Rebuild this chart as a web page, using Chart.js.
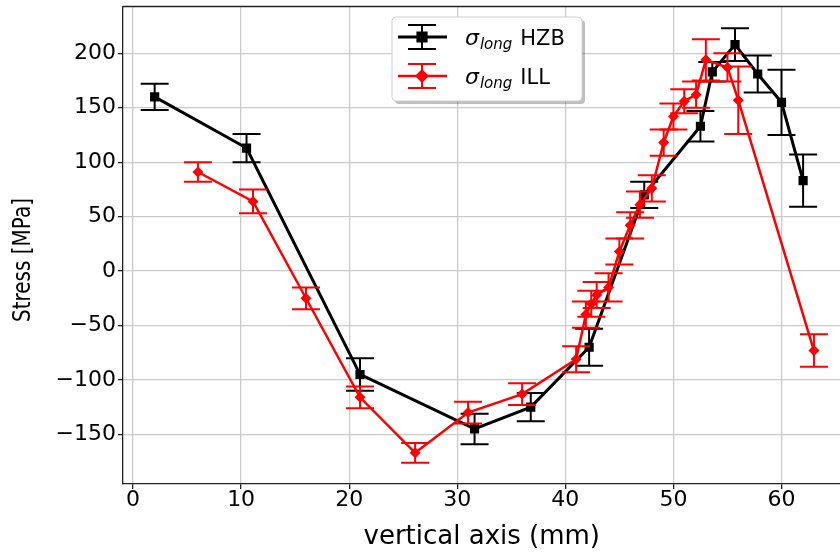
<!DOCTYPE html>
<html>
<head>
<meta charset="utf-8">
<script src="https://cdn.jsdelivr.net/npm/chart.js@4/dist/chart.umd.min.js"></script>
<style>
	html, body { margin: 0; padding: 0; background: #fff; overflow: hidden; }
	canvas { display: block; }
</style>
</head>
<body>
<canvas id="stress-chart" width="847" height="554"></canvas>
<script>
// HZB measurement (black squares)
var hzbPos = [2.0, 10.5, 21.0, 31.6, 36.8, 42.2, 47.3, 52.5, 53.6, 55.7, 57.8, 60.0, 62.0];
var hzbStress = [160, 113, -95, -145, -125, -70, 70, 133, 183, 208, 181, 155, 83];
var hzbErr = [12, 13, 15, 14, 13, 17, 12, 14, 9, 15, 17, 30, 24];

// ILL measurement (red diamonds)
var illPos = [6.0, 11.1, 16.0, 21.0, 26.1, 31.0, 36.0, 41.0, 41.9, 42.4, 42.9, 44.0, 45.0, 46.0, 46.9, 48.0, 49.1, 50.0, 51.0, 52.1, 53.0, 55.0, 56.0, 63.0];
var illStress = [91, 64, -25, -116, -167, -130, -113, -81, -40, -30, -22, -15, 18, 42, 61, 76, 118, 142, 156, 162, 194, 187, 157, -73];
var illErr = [9, 11, 10, 10, 9, 10, 10, 12, 12, 12, 12, 13, 12, 12, 12, 12, 12, 12, 11, 12, 19, 13, 31, 15];

var xTicks = [0, 10, 20, 30, 40, 50, 60];
var yTicks = [-150, -100, -50, 0, 50, 100, 150, 200];

function toPoints(xs, ys) {
	var out = [];
	for (var i = 0; i < xs.length; i++) out.push({x: xs[i], y: ys[i]});
	return out;
}

var errBars = {
	id: 'errBars',
	beforeDatasetDraw: function (chart, args) {
		var ds = chart.data.datasets[args.index];
		if (!ds.yErr) return;
		var ctx = chart.ctx, xs = chart.scales.x, ys = chart.scales.y, a = chart.chartArea;
		ctx.save();
		ctx.beginPath();
		ctx.rect(a.left, a.top, a.right - a.left, a.bottom - a.top);
		ctx.clip();
		ctx.strokeStyle = ds.borderColor;
		ctx.lineWidth = 2;
		ds.data.forEach(function (p, i) {
			var px = xs.getPixelForValue(p.x);
			var top = ys.getPixelForValue(p.y + ds.yErr[i]);
			var bot = ys.getPixelForValue(p.y - ds.yErr[i]);
			ctx.beginPath();
			ctx.moveTo(px, top); ctx.lineTo(px, bot);
			ctx.moveTo(px - 14, top); ctx.lineTo(px + 14, top);
			ctx.moveTo(px - 14, bot); ctx.lineTo(px + 14, bot);
			ctx.stroke();
		});
		ctx.restore();
	}
};

// top spine, y title and legend with subscript labels
var frameLegend = {
	id: 'frameLegend',
	afterDraw: function (chart) {
		var ctx = chart.ctx, a = chart.chartArea;
		ctx.save();
		ctx.strokeStyle = '#222';
		ctx.lineWidth = 1.3;
		ctx.beginPath();
		ctx.moveTo(a.left, a.top); ctx.lineTo(a.right, a.top);
		ctx.stroke();

		ctx.save();
		ctx.translate(23, 260);
		ctx.scale(1.25, 1);
		ctx.rotate(-Math.PI / 2);
		ctx.fillStyle = '#000';
		ctx.font = '20px "DejaVu Sans"';
		ctx.textAlign = 'center';
		ctx.textBaseline = 'middle';
		ctx.fillText('Stress [MPa]', 0, 0);
		ctx.restore();

		var bx = 392, by = 17, bw = 190, bh = 84;
		ctx.fillStyle = 'rgba(0,0,0,0.25)';
		roundRect(ctx, bx + 3, by + 3, bw, bh, 4); ctx.fill();
		ctx.fillStyle = '#fff';
		ctx.strokeStyle = '#d0d0d0';
		ctx.lineWidth = 1;
		roundRect(ctx, bx, by, bw, bh, 4); ctx.fill(); ctx.stroke();

		var items = [
			{ds: chart.data.datasets[1], y: 37, name: 'HZB'},
			{ds: chart.data.datasets[0], y: 76, name: 'ILL'}
		];
		items.forEach(function (it) {
			var c = it.ds.borderColor, cx = 422;
			ctx.strokeStyle = c;
			ctx.lineWidth = it.ds.borderWidth;
			ctx.beginPath(); ctx.moveTo(398, it.y); ctx.lineTo(447, it.y); ctx.stroke();
			ctx.lineWidth = 2;
			ctx.beginPath();
			ctx.moveTo(cx, it.y - 12); ctx.lineTo(cx, it.y + 12);
			ctx.moveTo(cx - 14, it.y - 12); ctx.lineTo(cx + 14, it.y - 12);
			ctx.moveTo(cx - 14, it.y + 12); ctx.lineTo(cx + 14, it.y + 12);
			ctx.stroke();
			Chart.helpers.drawPoint(ctx, {pointStyle: it.ds.pointStyle, radius: it.ds.pointRadius, borderWidth: 1}, cx, it.y);
			ctx.fillStyle = c;
			ctx.fill();

			ctx.fillStyle = '#000';
			ctx.textAlign = 'left';
			ctx.textBaseline = 'alphabetic';
			ctx.font = 'italic 22px "DejaVu Sans"';
			ctx.fillText('σ', 465, it.y + 8);
			var w = ctx.measureText('σ').width;
			ctx.font = 'italic 15px "DejaVu Sans"';
			ctx.fillText('long', 465 + w + 1, it.y + 12);
			var w2 = ctx.measureText('long').width;
			ctx.font = '21px "DejaVu Sans"';
			ctx.fillText(it.name, 465 + w + w2 + 9, it.y + 8);
		});
		ctx.restore();
	}
};

function roundRect(ctx, x, y, w, h, r) {
	ctx.beginPath();
	ctx.moveTo(x + r, y);
	ctx.arcTo(x + w, y, x + w, y + h, r);
	ctx.arcTo(x + w, y + h, x, y + h, r);
	ctx.arcTo(x, y + h, x, y, r);
	ctx.arcTo(x, y, x + w, y, r);
	ctx.closePath();
}

var tickFont = {family: '"DejaVu Sans"', size: 22};

var ctx = document.getElementById('stress-chart').getContext('2d');
new Chart(ctx, {
	type: 'line',
	data: {
		datasets: [{
			label: 'ILL',
			data: toPoints(illPos, illStress),
			yErr: illErr,
			borderColor: '#ff0000',
			backgroundColor: '#ff0000',
			borderWidth: 2.5,
			pointStyle: 'rectRot',
			pointRadius: 5.5,
			pointBorderWidth: 0,
			tension: 0,
			order: 1
		}, {
			label: 'HZB',
			data: toPoints(hzbPos, hzbStress),
			yErr: hzbErr,
			borderColor: '#000000',
			backgroundColor: '#000000',
			borderWidth: 3,
			pointStyle: 'rect',
			pointRadius: 6.5,
			pointBorderWidth: 0,
			tension: 0,
			order: 2
		}]
	},
	options: {
		responsive: false,
		animation: false,
		events: [],
		layout: {padding: {top: 5, right: 0, left: 0, bottom: 0}},
		plugins: {
			legend: {display: false},
			tooltip: {enabled: false}
		},
		scales: {
			x: {
				type: 'linear',
				min: -0.93,
				max: 65.46,
				afterFit: function (s) { s.height = 70; s.paddingLeft = 0; s.paddingRight = 0; },
				afterBuildTicks: function (s) { s.ticks = xTicks.map(function (v) { return {value: v}; }); },
				grid: {color: '#cccccc', lineWidth: 1.3, tickColor: '#222', tickLength: 5},
				border: {color: '#222', width: 1.3},
				ticks: {font: tickFont, color: '#000', padding: -2, maxRotation: 0},
				title: {display: true, text: 'vertical axis (mm)', font: {family: '"DejaVu Sans"', size: 26}, color: '#000', padding: {top: 0, bottom: 1}}
			},
			y: {
				type: 'linear',
				min: -195.6,
				max: 243,
				afterFit: function (s) { s.width = 123; s.paddingTop = 0; s.paddingBottom = 0; },
				afterBuildTicks: function (s) { s.ticks = yTicks.map(function (v) { return {value: v}; }); },
				grid: {color: '#cccccc', lineWidth: 1.3, tickColor: '#222', tickLength: 5},
				border: {color: '#222', width: 1.3},
				ticks: {
					font: tickFont, color: '#000', padding: 2,
					callback: function (v) { return String(v).replace('-', '\u2212'); }
				}
			}
		}
	},
	plugins: [errBars, frameLegend]
});
</script>
</body>
</html>
